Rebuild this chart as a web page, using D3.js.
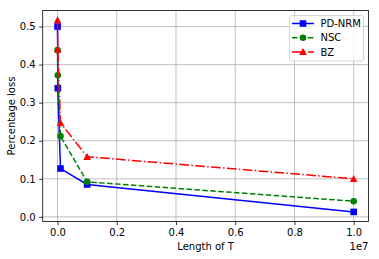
<!DOCTYPE html>
<html>
<head>
<meta charset="utf-8">
<script src="https://cdn.jsdelivr.net/npm/d3@7"></script>
<style>
  body { margin: 0; background: #fff; }
  svg text { font-family: "DejaVu Sans", sans-serif; font-size: 10px; fill: #000; }
</style>
</head>
<body>
<div id="chart"></div>
<script>
(function () {
  var lengths = [1e3, 1e4, 1e5, 1e6, 1e7];
  var pdNrm = [0.500, 0.338, 0.127, 0.085, 0.013];
  var nsc = [0.438, 0.372, 0.212, 0.092, 0.041];
  var bz = [0.517, 0.440, 0.247, 0.158, 0.100];
  var xTicks = [0, 0.2e7, 0.4e7, 0.6e7, 0.8e7, 1e7];
  var yTicks = [0, 0.1, 0.2, 0.3, 0.4, 0.5];

  var series = [
    {name: 'PD-NRM', values: pdNrm, color: '#0000ff', dash: null, marker: 'square'},
    {name: 'NSC', values: nsc, color: '#008000', dash: '5.55,2.4', marker: 'circle'},
    {name: 'BZ', values: bz, color: '#ff0000', dash: '9.6,2.4,1.5,2.4', marker: 'triangle'}
  ];

  var W = 379, H = 259,
      left = 42.7, right = 368.5, top = 10.5, bottom = 221.5;

  var all = pdNrm.concat(nsc, bz);
  var ymin = d3.min(all), ymax = d3.max(all), ypad = (ymax - ymin) * 0.05;
  var xpad = (1e7 - 0) * 0.05;

  var x = d3.scaleLinear().domain([0 - xpad, 1e7 + xpad]).range([left, right]);
  var y = d3.scaleLinear().domain([ymin - ypad, ymax + ypad]).range([bottom, top]);

  var svg = d3.select('#chart').append('svg')
    .attr('width', W).attr('height', H);

  // grid
  svg.append('g').selectAll('line').data(xTicks).enter().append('line')
    .attr('x1', function (d) { return x(d); }).attr('x2', function (d) { return x(d); })
    .attr('y1', top).attr('y2', bottom)
    .attr('stroke', '#b0b0b0').attr('stroke-width', 0.8);
  svg.append('g').selectAll('line').data(yTicks).enter().append('line')
    .attr('y1', function (d) { return y(d); }).attr('y2', function (d) { return y(d); })
    .attr('x1', left).attr('x2', right)
    .attr('stroke', '#b0b0b0').attr('stroke-width', 0.8);

  // axes
  var xAxis = d3.axisBottom(x).tickValues(xTicks).tickSize(3.5).tickPadding(3.5)
    .tickFormat(function (d) { return d3.format('.1f')(d / 1e7); });
  var yAxis = d3.axisLeft(y).tickValues(yTicks).tickSize(3.5).tickPadding(3.5)
    .tickFormat(d3.format('.1f'));

  var gx = svg.append('g').attr('transform', 'translate(0,' + bottom + ')').call(xAxis);
  var gy = svg.append('g').attr('transform', 'translate(' + left + ',0)').call(yAxis);
  [gx, gy].forEach(function (g) {
    g.select('.domain').remove();
    g.selectAll('.tick line').attr('stroke', '#000').attr('stroke-width', 0.8);
    g.selectAll('.tick text').style('font-size', '10px').attr('fill', '#000');
  });

  // lines
  var line = d3.line()
    .x(function (d) { return x(d[0]); })
    .y(function (d) { return y(d[1]); });

  var plot = svg.append('g');
  function drawMarker(g, type, color, cx, cy) {
    if (type === 'square') {
      g.append('rect').attr('x', cx - 3.3).attr('y', cy - 3.3)
        .attr('width', 6.6).attr('height', 6.6).attr('fill', color);
    } else if (type === 'circle') {
      g.append('circle').attr('cx', cx).attr('cy', cy).attr('r', 3.3).attr('fill', color);
    } else {
      g.append('path').attr('d', 'M' + cx + ',' + (cy - 3.8) + 'L' + (cx + 3.8) + ',' + (cy + 3.2) +
        'L' + (cx - 3.8) + ',' + (cy + 3.2) + 'Z').attr('fill', color);
    }
  }

  series.forEach(function (s) {
    var pts = lengths.map(function (t, i) { return [t, s.values[i]]; });
    plot.append('path').datum(pts)
      .attr('d', line)
      .attr('fill', 'none')
      .attr('stroke', s.color)
      .attr('stroke-width', 1.5)
      .attr('stroke-dasharray', s.dash);
    pts.forEach(function (p) {
      drawMarker(plot, s.marker, s.color, x(p[0]), y(p[1]));
    });
  });

  // spines
  svg.append('rect').attr('x', left).attr('y', top)
    .attr('width', right - left).attr('height', bottom - top)
    .attr('fill', 'none').attr('stroke', '#000').attr('stroke-width', 0.8);

  // labels
  svg.append('text').attr('x', (left + right) / 2).attr('y', 250)
    .attr('text-anchor', 'middle').text('Length of T');
  svg.append('text').attr('x', right).attr('y', 249.5)
    .attr('text-anchor', 'end').text('1e7');
  svg.append('text')
    .attr('transform', 'translate(14.5,' + ((top + bottom) / 2) + ') rotate(-90)')
    .attr('text-anchor', 'middle').text('Percentage loss');

  // legend
  var lg = svg.append('g');
  lg.append('rect').attr('x', 289.5).attr('y', 15.5).attr('width', 74).attr('height', 45.5)
    .attr('rx', 2).attr('fill', '#fff').attr('fill-opacity', 0.8)
    .attr('stroke', '#cccccc').attr('stroke-width', 0.8);
  series.forEach(function (s, i) {
    var ly = 23.5 + i * 14.2;
    lg.append('line').attr('x1', 292).attr('x2', 314).attr('y1', ly).attr('y2', ly)
      .attr('stroke', s.color).attr('stroke-width', 1.5)
      .attr('stroke-dasharray', s.dash);
    drawMarker(lg, s.marker, s.color, 303, ly);
    lg.append('text').attr('x', 320.5).attr('y', ly + 3.6).text(s.name);
  });
})();
</script>
</body>
</html>
